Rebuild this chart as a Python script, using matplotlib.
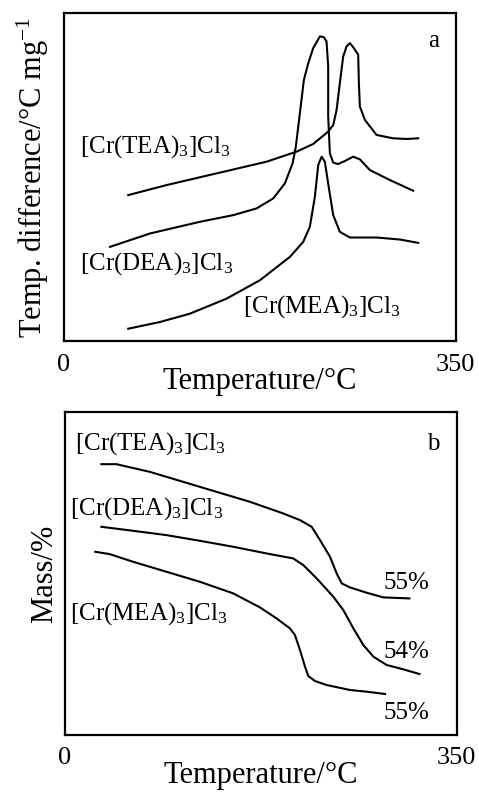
import matplotlib
matplotlib.use("Agg")
import matplotlib.pyplot as plt

plt.rcParams['font.family'] = ['Liberation Serif', 'DejaVu Serif']
plt.rcParams['mathtext.fontset'] = 'custom'
plt.rcParams['mathtext.rm'] = 'Liberation Serif'
plt.rcParams['mathtext.it'] = 'Liberation Serif:italic'

# ---- Panel a: DTA (arbitrary units) ----
dta_tea_T = [57.4, 91.7, 136.3, 181.0, 207.7, 222.6, 236.0, 240.5, 243.5, 246.4, 249.4, 252.4,
             255.4, 258.9, 262.8, 263.4, 264.3, 268.8, 279.2, 294.0, 306.0, 316.4]
dta_tea_y = [437, 467, 502, 537, 567, 590, 627, 647, 692, 772, 852, 882,
             892, 877, 857, 772, 702, 662, 617, 607, 605, 607]

dta_dea_T = [41.1, 76.8, 121.4, 151.2, 172.0, 186.9, 197.3, 204.2, 207.1, 210.7, 214.3, 218.2,
             222.6, 228.6, 232.1, 234.5, 236.0, 236.0, 237.5, 240.5, 244.9, 250.9, 258.3,
             264.3, 273.2, 291.1, 311.9]
dta_dea_y = [282, 322, 357, 377, 397, 427, 472, 532, 582, 682, 782, 832,
             877, 912, 910, 897, 822, 672, 562, 534, 530, 539, 552,
             544, 512, 482, 450]

dta_mea_T = [57.4, 85.7, 112.5, 145.2, 175.0, 201.8, 213.7, 219.6, 224.1, 227.1, 230.1, 233.0,
             236.9, 240.5, 246.4, 255.4, 279.2, 300.0, 316.4]
dta_mea_y = [37, 57, 82, 127, 182, 252, 297, 342, 432, 527, 552, 537,
             452, 377, 327, 310, 310, 304, 294]

# ---- Panel b: TG (arbitrary units) ----
tg_tea_T = [32.5, 45.9, 75.7, 105.5, 135.3, 165.2, 195.0, 209.9, 220.3, 227.8, 236.7, 242.7,
            247.2, 254.6, 269.5, 284.4, 307.7]
tg_tea_y = [813, 813, 790, 760, 730, 700, 665, 645, 625, 585, 535, 485,
            455, 443, 427, 413, 410]

tg_dea_T = [32.5, 60.8, 90.6, 120.4, 150.3, 180.1, 203.9, 212.9, 224.8, 239.7, 248.6, 257.6,
            266.5, 275.5, 287.4, 302.3, 316.6]
tg_dea_y = [625, 613, 600, 583, 565, 545, 530, 510, 470, 415, 375, 320,
            270, 235, 210, 197, 183]

tg_mea_T = [27.1, 39.9, 60.8, 90.6, 120.4, 150.3, 174.1, 189.0, 200.9, 205.4, 209.9, 214.4,
            217.3, 223.3, 233.7, 254.6, 269.5, 285.9]
tg_mea_y = [550, 543, 520, 490, 460, 425, 383, 350, 320, 300, 255, 205,
            177, 162, 150, 135, 130, 123]

x_ticks = [0, 350]
x_ticklabels = ["0", "350"]
residues = ["55%", "54%", "55%"]
names = ["[Cr(TEA)$_3$]Cl$_3$", "[Cr(DEA)$_3$]Cl$_3$", "[Cr(MEA)$_3$]Cl$_3$"]

fig = plt.figure(figsize=(4.79, 7.95), dpi=100)
axa = fig.add_axes([0.1336, 0.571, 0.818, 0.4126])
axb = fig.add_axes([0.1357, 0.0755, 0.818, 0.406])

lw = 1.5
fs = 18
lfs = 22
for ax in (axa, axb):
    ax.set_xlim(0, 350)
    ax.set_xticks(x_ticks)
    ax.set_xticklabels(x_ticklabels, fontsize=19)
    ax.set_yticks([])
    ax.tick_params(axis='x', length=0, pad=9)
    for s in ax.spines.values():
        s.set_linewidth(1.6)
    ax.set_xlabel("Temperature/°C", fontsize=lfs, labelpad=-6)

axa.set_ylim(0, 982)
axa.plot(dta_tea_T, dta_tea_y, color='black', lw=lw)
axa.plot(dta_dea_T, dta_dea_y, color='black', lw=lw)
axa.plot(dta_mea_T, dta_mea_y, color='black', lw=lw)
axa.text(14.3, 582, names[0], fontsize=fs, va='center', ha='left')
axa.text(14.3, 232, names[1], fontsize=fs, va='center', ha='left')
axa.text(160.1, 102, names[2], fontsize=fs, va='center', ha='left')
axa.text(329.8, 897, "a", fontsize=fs, va='center', ha='center')
axa.set_ylabel("Temp. difference/°C mg$^{-1}$", fontsize=lfs, labelpad=9)

axb.set_ylim(0, 969)
axb.plot(tg_tea_T, tg_tea_y, color='black', lw=lw)
axb.plot(tg_dea_T, tg_dea_y, color='black', lw=lw)
axb.plot(tg_mea_T, tg_mea_y, color='black', lw=lw)
axb.text(8.6, 875, names[0], fontsize=fs, va='center', ha='left')
axb.text(4.2, 680, names[1], fontsize=fs, va='center', ha='left')
axb.text(4.2, 365, names[2], fontsize=fs, va='center', ha='left')
axb.text(329, 875, "b", fontsize=fs, va='center', ha='center')
axb.text(284.4, 455, residues[0], fontsize=fs, va='center', ha='left')
axb.text(284.4, 250, residues[1], fontsize=fs, va='center', ha='left')
axb.text(284.4, 65, residues[2], fontsize=fs, va='center', ha='left')
axb.set_ylabel("Mass/%", fontsize=lfs, labelpad=4)

fig.savefig("out.png", dpi=100)
